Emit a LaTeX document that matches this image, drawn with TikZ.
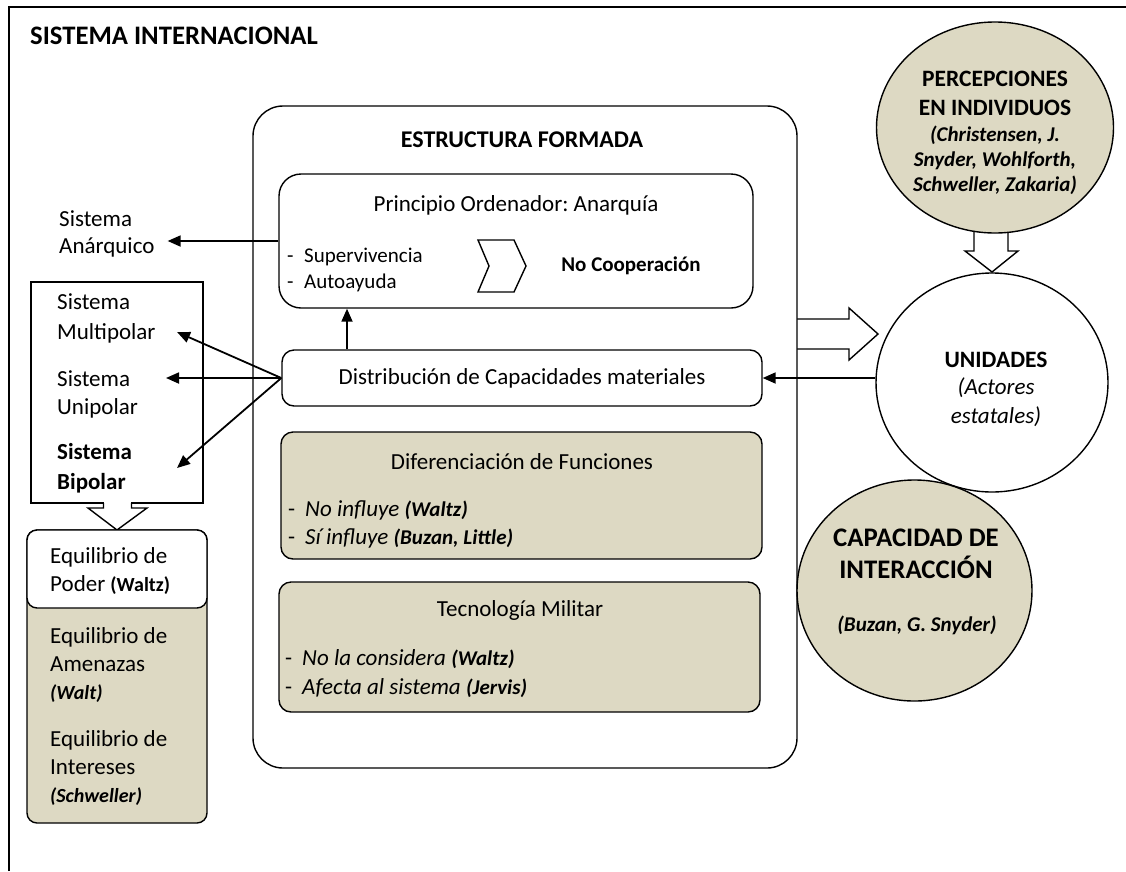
\documentclass[tikz,border=0pt]{standalone}
\usepackage{fontspec}
\setmainfont{Carlito}
\usetikzlibrary{arrows.meta,shapes.geometric}
\definecolor{beige}{HTML}{DDD9C3}
\newcommand{\fsz}[2]{\fontsize{#1}{#2}\selectfont}
\newcommand{\au}[1]{{\fsz{21}{25}\bfseries\itshape #1}}
\newcommand{\dsh}{\makebox[17pt][l]{\upshape\mdseries -}}
\frenchspacing
\begin{document}
\begin{tikzpicture}[x=1pt,y=-1pt,
  txt/.style={inner sep=0pt, font=\fsz{23}{28}},
  sm/.style={inner sep=0pt, font=\fsz{21}{26}},
  frame/.style={draw, line width=1.4pt},
  rbox/.style={draw, line width=1.4pt, rectangle, inner sep=0pt},
  arr/.style={line width=1.8pt, -{Triangle[length=13pt,width=11pt]}},
  blk/.style={draw, line width=1.4pt, fill=white, line join=miter},
  circ/.style={draw, line width=1.4pt, ellipse, inner sep=0pt}
]
\useasboundingbox (0,0) rectangle (1126,871);
\fill[white] (0,0) rectangle (1126,871);
\draw[frame] (9,871) -- (9,7) -- (1126,7);
\node[txt, anchor=west, font=\fsz{26.7}{32}\bfseries] (title) at (30,36) {SISTEMA INTERNACIONAL};

% block arrows (drawn first, shapes on top)
\path[blk] (797,319) -- (849,319) -- (849,308) -- (878,334) -- (849,360) -- (849,349) -- (797,349);
\path[blk] (974,226) -- (974,251) -- (965,251) -- (992,272) -- (1018,251) -- (1008,251) -- (1008,226);

% main structure
\node[rbox, fill=white, minimum width=544pt, minimum height=662pt, rounded corners=30pt] (estr) at (525,437) {};
\node[txt, font=\fsz{24}{28}\bfseries] (estrt) at (522,140) {ESTRUCTURA FORMADA};

\node[rbox, minimum width=474pt, minimum height=134pt, rounded corners=22pt] (prin) at (516,241) {};
\node[txt] (print) at (516,205) {Principio Ordenador: Anarquía};
\node[sm, anchor=west] (sup) at (287,257) {\dsh Supervivencia};
\node[sm, anchor=west] (auto) at (287,283) {\dsh Autoayuda};
\draw[line width=1.4pt, line join=miter] (478,240) -- (514,240) -- (526,266) -- (514,292) -- (478,292) -- (489,266) -- cycle;
\node[sm, font=\fsz{21}{26}\bfseries] (nocoop) at (631,266) {No Cooperación};

\node[rbox, minimum width=480pt, minimum height=56pt, rounded corners=12pt] (dist) at (522,378) {};
\node[txt] (distt) at (522,378) {Distribución de Capacidades materiales};

\node[rbox, fill=beige, minimum width=481pt, minimum height=127pt, rounded corners=12pt] (dif) at (521.5,495.5) {};
\node[txt] (dift) at (522,462) {Diferenciación de Funciones};
\node[txt, anchor=west] (dfi1) at (288,510) {\dsh\itshape No influye \au{(Waltz)}};
\node[txt, anchor=west] (dfi2) at (288,538) {\dsh\itshape Sí influye \au{(Buzan, Little)}};

\node[rbox, fill=beige, minimum width=481pt, minimum height=130pt, rounded corners=12pt] (tec) at (519.5,647) {};
\node[txt] (tect) at (520,610) {Tecnología Militar};
\node[txt, anchor=west] (tci1) at (285,659) {\dsh\itshape No la considera \au{(Waltz)}};
\node[txt, anchor=west] (tci2) at (285,688) {\dsh\itshape Afecta al sistema \au{(Jervis)}};

\draw[arr] ([xshift=-175pt]dist.north) -- ([xshift=-175pt]dist.north |- prin.south);

% left side
\node[txt, anchor=west, align=left, font=\fsz{23}{27}] (anarq) at (59,233.5) {Sistema\\Anárquico};
\draw[arr] (prin.west) -- ([xshift=13pt]anarq.east |- prin.west);

\node[rbox, minimum width=172pt, minimum height=221pt] (sis) at (117,392.5) {};
\node[txt, anchor=west, align=left, font=\fsz{23}{30}] (smul) at (57,318) {Sistema\\Multipolar};
\node[txt, anchor=west, align=left, font=\fsz{23}{28}] (suni) at (57,394) {Sistema\\Unipolar};
\node[txt, anchor=west, align=left, font=\fsz{23}{30}\bfseries] (sbip) at (57,468) {Sistema\\Bipolar};
\coordinate (tmul) at (177,332);
\coordinate (tuni) at (166,378);
\coordinate (tbip) at (177,468);
\draw[arr] (dist.west) -- (tmul);
\draw[arr] (dist.west) -- (tuni);
\draw[arr] (dist.west) -- (tbip);

\fill[white] (104,501) rectangle (131,510);
\draw[line width=1.4pt, line join=miter] (103.5,503) -- (103.5,508) -- (88,508) -- (117,530) -- (147,508) -- (131.5,508) -- (131.5,503);

\node[rbox, fill=beige, minimum width=180pt, minimum height=293pt, rounded corners=10pt] (eqb) at (117,676.5) {};
\node[rbox, fill=white, minimum width=180pt, minimum height=78pt, rounded corners=10pt] (eqw) at (117,569) {};
\node[txt, anchor=west, align=left] (eqp) at (50,571.5) {Equilibrio de\\Poder {\fsz{20}{24}\bfseries(Waltz)}};
\node[txt, anchor=west, align=left] (eqa) at (50,665) {Equilibrio de\\Amenazas\\{\fsz{20}{24}\bfseries\itshape(Walt)}};
\node[txt, anchor=west, align=left] (eqi) at (50,768) {Equilibrio de\\Intereses\\{\fsz{20}{24}\bfseries\itshape(Schweller)}};

% right side
\node[circ, fill=beige, minimum width=237pt, minimum height=211pt] (perc) at (995,127.5) {};
\node[inner sep=0pt, align=center, font=\fsz{23.5}{29}\bfseries] (perct) at (995,93) {PERCEPCIONES\\EN INDIVIDUOS};
\node[inner sep=0pt, align=center, font=\fsz{21}{25}\bfseries\itshape] (percn) at (995,160) {(Christensen, J.\\Snyder, Wohlforth,\\Schweller, Zakaria)};

\node[circ, fill=white, minimum width=232pt, minimum height=219pt] (unid) at (992,382.5) {};
\node[inner sep=0pt, font=\fsz{23.5}{28}\bfseries] (unidt) at (996,360) {UNIDADES};
\node[inner sep=0pt, align=center, font=\fsz{23}{29}\itshape] (unida) at (996,402) {(Actores\\estatales)};
\draw[arr] (unid.west |- dist.east) -- (dist.east);

\node[circ, fill=beige, minimum width=235pt, minimum height=221pt] (cap) at (914.5,590.5) {};
\node[inner sep=0pt, align=center, font=\fsz{26.8}{32}\bfseries] (capt) at (916,554) {CAPACIDAD DE\\INTERACCIÓN};
\node[inner sep=0pt, font=\fsz{21}{25}\bfseries\itshape] (capn) at (917,625) {(Buzan, G. Snyder)};
\end{tikzpicture}
\end{document}
